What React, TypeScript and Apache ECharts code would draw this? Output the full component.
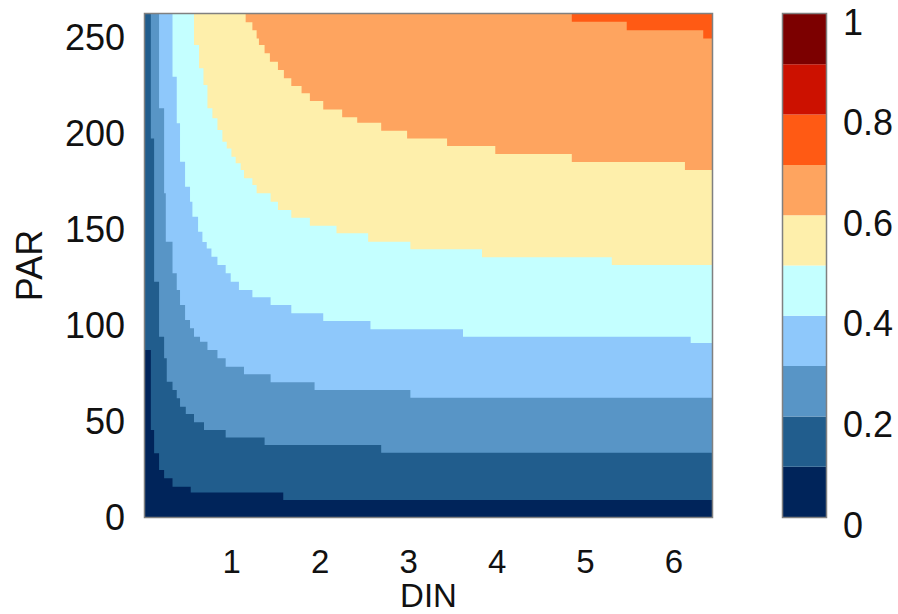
import React, { useEffect, useRef } from "react";
import * as echarts from "echarts";

// Axis extents
const DIN_MIN = 0.02;
const DIN_MAX = 6.43;
const PAR_MIN = 0;
const PAR_MAX = 262;

// Tick labels
const xTicks = [1, 2, 3, 4, 5, 6];
const yTicks = [0, 50, 100, 150, 200, 250];
const cbTicks = [0, 0.2, 0.4, 0.6, 0.8, 1];

// Colour levels (lower bound of each band) and colours
const levels = [0, 0.1, 0.2, 0.3, 0.4, 0.5, 0.6, 0.7, 0.8, 0.9];
const levelColors = [
  "#00245a",
  "#215d8d",
  "#5895c6",
  "#8ec8fb",
  "#c4ffff",
  "#feefab",
  "#fea45f",
  "#ff5a14",
  "#cc1100",
  "#7c0000",
];

// Contour boundaries: [DIN, PAR] where the field reaches each level
// (region above the boundary is at or beyond the level)
const bound01 = [
  [0.02, 87.0], [0.086, 45.3], [0.123, 33.2], [0.179, 24.5], [0.236, 20.2],
  [0.331, 15.8], [0.537, 12.7], [1.583, 8.9], [6.43, 8.9],
];
const bound02 = [
  [0.086, 197.2], [0.123, 122.6], [0.179, 93.9], [0.236, 82.7], [0.266, 70.5],
  [0.331, 66.1], [0.379, 61.8], [0.416, 57.4], [0.481, 53.6], [0.574, 49.3],
  [0.687, 45.3], [0.932, 41.4], [1.372, 37.5], [2.69, 33.5], [6.43, 33.5],
];
const bound03 = [
  [0.179, 212.9], [0.236, 168.6], [0.255, 143.4], [0.331, 126.9], [0.379, 118.2],
  [0.416, 110.4], [0.473, 102.6], [0.529, 98.3], [0.574, 93.9], [0.642, 91.3],
  [0.726, 87.0], [0.839, 82.7], [0.932, 78.3], [1.139, 74.3], [1.44, 70.2],
  [1.937, 66.1], [3.02, 62.1], [6.43, 62.1],
];
const bound04 = [
  [0.331, 229.3], [0.379, 205.1], [0.416, 185.1], [0.473, 172.0], [0.529, 164.2],
  [0.556, 156.4], [0.62, 148.6], [0.669, 143.2], [0.718, 139.9], [0.771, 135.6],
  [0.839, 131.3], [0.932, 126.9], [0.989, 122.6], [1.082, 118.2], [1.234, 114.4],
  [1.44, 110.4], [1.674, 106.1], [2.035, 102.1], [2.569, 97.8], [3.615, 93.9],
  [6.189, 90.6], [6.43, 90.6],
];
const bound05 = [
  [0.574, 245.8], [0.631, 233.7], [0.681, 225.0], [0.726, 212.9], [0.782, 207.7],
  [0.839, 201.6], [0.895, 195.5], [0.944, 192.0], [0.997, 187.7], [1.045, 184.2],
  [1.102, 180.7], [1.139, 176.4], [1.234, 172.9], [1.282, 168.6], [1.44, 164.2],
  [1.523, 159.9], [1.674, 155.9], [1.884, 151.7], [2.185, 147.8], [2.543, 143.4],
  [3.02, 139.4], [3.83, 135.3], [5.297, 131.3], [6.43, 131.3],
];
const bound06 = [
  [1.158, 257.7], [1.234, 253.6], [1.282, 249.3], [1.308, 245.8], [1.372, 241.5],
  [1.432, 237.1], [1.523, 232.8], [1.59, 228.5], [1.674, 224.5], [1.79, 220.7],
  [1.884, 216.7], [2.035, 212.3], [2.249, 208.2], [2.419, 205.4], [2.69, 201.2],
  [2.983, 197.2], [3.435, 193.2], [3.98, 189.1], [4.845, 184.9], [6.124, 180.7],
  [6.43, 180.7],
];
const bound07 = [
  [4.845, 258.0], [5.466, 253.5], [6.331, 249.3], [6.43, 249.3],
];

const boundaries = [bound01, bound02, bound03, bound04, bound05, bound06, bound07];

const FONT = "Liberation Sans";
const FS = 36;
const FS_X = 33;
const TXT = "#111";

export default function App() {
  const ref = useRef<HTMLDivElement>(null);

  useEffect(() => {
    if (!ref.current) return;
    const chart = echarts.init(ref.current, undefined, { renderer: "svg" });

    const contourSeries = boundaries.map((b, i) => ({
      type: "line",
      name: "level " + levels[i + 1],
      xAxisIndex: 0,
      yAxisIndex: 0,
      data: b,
      step: "end",
      symbol: "none",
      showSymbol: false,
      silent: true,
      lineStyle: { width: 0, opacity: 0 },
      areaStyle: { color: levelColors[i + 1], opacity: 1, origin: "end" },
      z: 2 + i,
    }));

    const colorbarSeries = levels.map((lv, i) => ({
      type: "bar",
      xAxisIndex: 1,
      yAxisIndex: 1,
      stack: "cb",
      barWidth: "100%",
      silent: true,
      data: [Math.round(((levels[i + 1] ?? 1) - lv) * 10) / 10],
      itemStyle: { color: levelColors[i], borderWidth: 0 },
    }));

    chart.setOption({
      animation: false,
      textStyle: { fontFamily: FONT },
      grid: [
        {
          left: 145,
          top: 14,
          width: 567,
          height: 503,
          show: true,
          backgroundColor: levelColors[0],
          borderWidth: 0,
          containLabel: false,
          outerBoundsMode: "none",
        },
        {
          left: 783,
          top: 14,
          width: 43,
          height: 503,
          containLabel: false,
          outerBoundsMode: "none",
        },
      ],
      xAxis: [
        {
          gridIndex: 0,
          type: "value",
          min: DIN_MIN,
          max: DIN_MAX,
          axisLine: { show: false },
          axisTick: { show: false },
          splitLine: { show: false },
          axisLabel: {
            customValues: xTicks,
            fontSize: FS_X,
            color: TXT,
            margin: 28,
            fontFamily: FONT,
          },
          name: "DIN",
          nameLocation: "middle",
          nameGap: 62,
          nameMoveOverlap: false,
          nameTextStyle: { fontSize: FS_X, color: TXT, fontFamily: FONT },
        },
        {
          gridIndex: 1,
          type: "category",
          data: ["cb"],
          show: false,
        },
      ],
      yAxis: [
        {
          gridIndex: 0,
          type: "value",
          min: PAR_MIN,
          max: PAR_MAX,
          axisLine: { show: false },
          axisTick: { show: false },
          splitLine: { show: false },
          axisLabel: {
            customValues: yTicks,
            fontSize: FS,
            color: TXT,
            margin: 20,
            fontFamily: FONT,
          },
          name: "PAR",
          nameLocation: "middle",
          nameGap: 98,
          nameMoveOverlap: false,
          nameTextStyle: { fontSize: FS, color: TXT, fontFamily: FONT },
        },
        {
          gridIndex: 1,
          type: "value",
          position: "right",
          min: 0,
          max: 1,
          axisLine: { show: false },
          axisTick: { show: false },
          splitLine: { show: false },
          axisLabel: {
            customValues: cbTicks,
            fontSize: FS,
            color: TXT,
            margin: 17,
            verticalAlign: "top",
            lineHeight: 16,
            fontFamily: FONT,
          },
        },
      ],
      series: [...contourSeries, ...colorbarSeries],
      graphic: [
        {
          type: "rect",
          z: 100,
          silent: true,
          shape: { x: 144.5, y: 13.5, width: 568, height: 504 },
          style: { fill: "none", stroke: "#808080", lineWidth: 1.5 },
        },
        {
          type: "rect",
          z: 100,
          silent: true,
          shape: { x: 782.5, y: 13.5, width: 44, height: 504 },
          style: { fill: "none", stroke: "#808080", lineWidth: 1.5 },
        },
      ],
    });

    return () => chart.dispose();
  }, []);

  return (
    <div
      ref={ref}
      style={{ position: "fixed", left: 0, top: 0, width: 898, height: 614, background: "#fff" }}
    />
  );
}
